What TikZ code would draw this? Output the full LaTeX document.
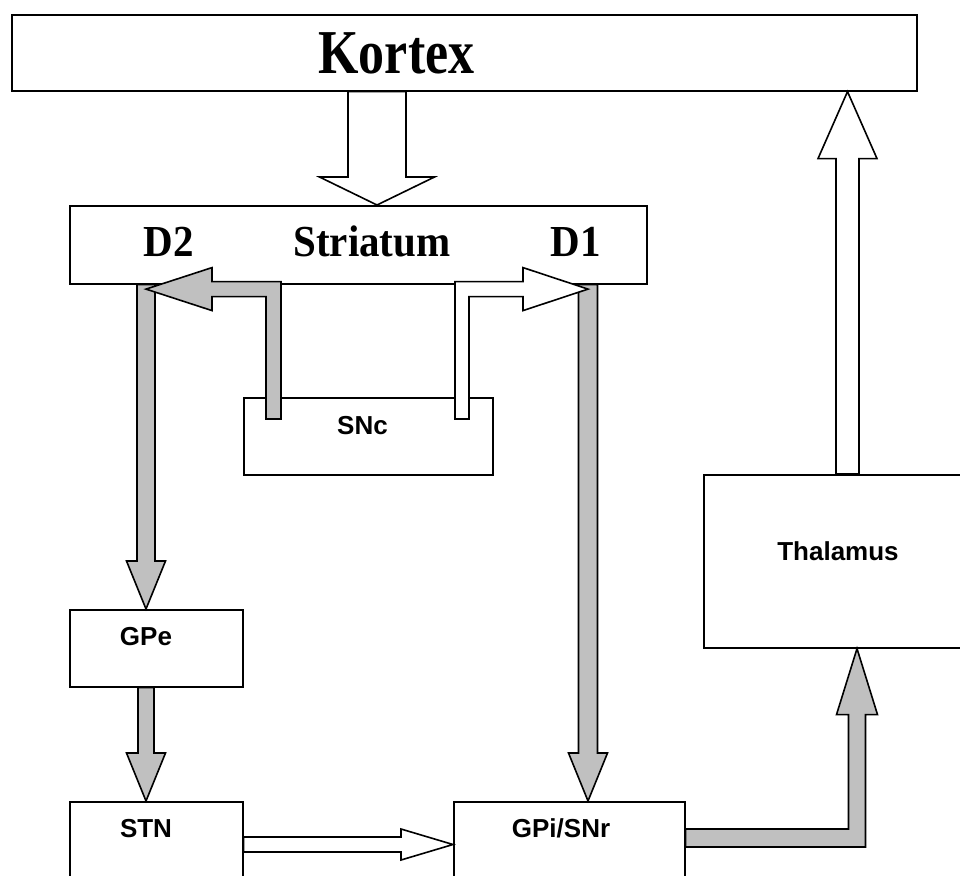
\documentclass[tikz,border=0pt]{standalone}
\usepackage{fontspec}
\newfontfamily\timesb{Liberation Serif}
\newfontfamily\arialb{Liberation Sans}
\usetikzlibrary{calc}
\definecolor{arrowgray}{RGB}{192,192,192}
\tikzset{
  box/.style={draw=black, line width=1.6pt, fill=white, inner sep=0pt, anchor=north west},
  blk/.style={draw=black, line width=1.6pt, line join=miter},
  grayblk/.style={blk, fill=arrowgray},
  whiteblk/.style={blk, fill=white},
  bigtxt/.style={font=\timesb\bfseries\fontsize{41pt}{41pt}\selectfont, anchor=base, inner sep=0pt},
  hugetxt/.style={font=\timesb\bfseries\fontsize{52pt}{52pt}\selectfont, anchor=base, inner sep=0pt},
  smalltxt/.style={font=\arialb\bfseries\fontsize{26pt}{26pt}\selectfont, anchor=base, inner sep=0pt},
}
% vertical block arrow: style, from, to (tip), shaft half width, head half width, signed head length
\newcommand{\vblockarrow}[6]{%
  \path[#1] let \p1=(#2), \p2=(#3) in
    ({\x2-#4pt},\y1) -- ({\x2-#4pt},{\y2+(#6pt)}) -- ({\x2-#5pt},{\y2+(#6pt)}) -- (\x2,\y2)
    -- ({\x2+#5pt},{\y2+(#6pt)}) -- ({\x2+#4pt},{\y2+(#6pt)}) -- ({\x2+#4pt},\y1) -- cycle;}
\begin{document}
\begin{tikzpicture}[x=1pt,y=-1pt]
\useasboundingbox (0,0) rectangle (960,875);
\clip (0,0) rectangle (960,875);
\fill[white] (0,0) rectangle (960,875);

% boxes
\node[box, minimum width=905pt, minimum height=76pt] (kortex) at (11,14) {};
\node[box, minimum width=577pt, minimum height=78pt] (striatum) at (69,205) {};
\node[box, minimum width=249pt, minimum height=77pt] (snc) at (243,397) {};
\node[box, minimum width=173pt, minimum height=77pt] (gpe) at (69,609) {};
\node[box, minimum width=173pt, minimum height=120pt] (stn) at (69,801) {};
\node[box, minimum width=231pt, minimum height=120pt] (gpi) at (453,801) {};
\node[box, minimum width=300pt, minimum height=173pt] (thalamus) at (703,474) {};

% straight block arrows
\vblockarrow{whiteblk}{kortex.south}{$(striatum.north west)+(308,0)$}{29}{57.5}{28}
\vblockarrow{grayblk}{striatum.south}{$(gpe.north west)+(77,0)$}{9}{19.5}{48}
\vblockarrow{grayblk}{gpe.south}{$(stn.north west)+(77,0)$}{8}{19.5}{48}
\vblockarrow{grayblk}{striatum.south}{$(gpi.north west)+(135,0)$}{9.5}{19.5}{48}
\vblockarrow{whiteblk}{thalamus.north}{$(kortex.south west)+(836.5,0)$}{11.5}{29.5}{-67}

% STN -> GPi/SNr
\path[whiteblk] let \p1=($(stn.north east)+(0,43.5)$), \p2=($(gpi.north west)+(0,43.5)$) in
  (\x1,{\y1+7.5pt}) -- ({\x2-52pt},{\y1+7.5pt}) -- ({\x2-52pt},{\y1+15.5pt}) -- (\x2,\y1)
  -- ({\x2-52pt},{\y1-15.5pt}) -- ({\x2-52pt},{\y1-7.5pt}) -- (\x1,{\y1-7.5pt}) -- cycle;

% GPi/SNr -> Thalamus
\path[grayblk] let \p1=($(gpi.north east)+(0,37)$), \p2=($(thalamus.south west)+(154,0)$) in
  (\x1,{\y1+9pt}) -- ({\x2-8.5pt},{\y1+9pt}) -- ({\x2-8.5pt},{\y2-66pt}) -- ({\x2-20.5pt},{\y2-66pt})
  -- (\x2,\y2) -- ({\x2+20.5pt},{\y2-66pt}) -- ({\x2+8.5pt},{\y2-66pt}) -- ({\x2+8.5pt},{\y1-9pt})
  -- (\x1,{\y1-9pt}) -- cycle;

% SNc -> D2
\path[grayblk] let \p1=($(snc.north west)+(30.5,22)$), \p2=($(striatum.south west)+(77,4.5)$) in
  ({\x1+7.5pt},\y1) -- ({\x1+7.5pt},{\y2+7.5pt}) -- ({\x2+66pt},{\y2+7.5pt}) -- ({\x2+66pt},{\y2+21.5pt})
  -- (\x2,\y2) -- ({\x2+66pt},{\y2-21.5pt}) -- ({\x2+66pt},{\y2-7.5pt}) -- ({\x1-7.5pt},{\y2-7.5pt})
  -- ({\x1-7.5pt},\y1) -- cycle;

% SNc -> D1
\path[whiteblk] let \p1=($(snc.north west)+(219,22)$), \p2=($(striatum.south west)+(519,4.5)$) in
  ({\x1-7pt},\y1) -- ({\x1-7pt},{\y2+7.5pt}) -- ({\x2-65pt},{\y2+7.5pt}) -- ({\x2-65pt},{\y2+21.5pt})
  -- (\x2,\y2) -- ({\x2-65pt},{\y2-21.5pt}) -- ({\x2-65pt},{\y2-7.5pt}) -- ({\x1+7pt},{\y2-7.5pt})
  -- ({\x1+7pt},\y1) -- cycle;

% labels
\node[hugetxt] (kortexT) at (396.5,74) {\scalebox{1}[1.2]{Kortex}};
\node[bigtxt] (d2T) at (169,256) {\scalebox{1}[1.08]{D2}};
\node[bigtxt] (striatumT) at (372,256) {\scalebox{1}[1.08]{Striatum}};
\node[bigtxt] (d1T) at (576,256) {\scalebox{1}[1.08]{D1}};
\node[smalltxt] (sncT) at (362.5,434) {SNc};
\node[smalltxt] (gpeT) at (146,645) {GPe};
\node[smalltxt] (stnT) at (146,837) {STN};
\node[smalltxt] (gpiT) at (561,837) {GPi/SNr};
\node[smalltxt] (thalT) at (838,560) {Thalamus};
\end{tikzpicture}
\end{document}
